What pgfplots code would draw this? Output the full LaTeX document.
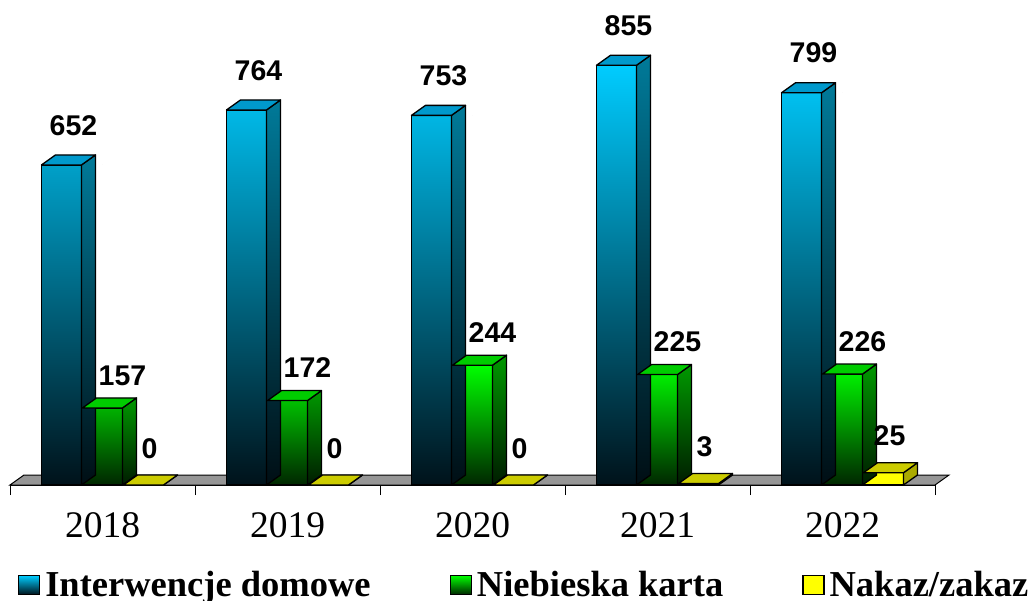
\documentclass[border=0pt]{standalone}
\usepackage{fontspec}
\setmainfont{Liberation Serif}
\newfontfamily\arial{Liberation Sans}
\usepackage{pgfplots}
\pgfplotsset{compat=1.18}
\definecolor{bTop}{RGB}{0,204,255}
\definecolor{bMid}{RGB}{0,112,142}
\definecolor{bBot}{RGB}{0,18,26}
\definecolor{bSideT}{RGB}{0,122,153}
\definecolor{bSideB}{RGB}{0,14,20}
\definecolor{bCap}{RGB}{0,153,204}
\definecolor{gTop}{RGB}{0,255,0}
\definecolor{gMid}{RGB}{0,150,0}
\definecolor{gBot}{RGB}{0,38,0}
\definecolor{gSideT}{RGB}{0,153,0}
\definecolor{gSideB}{RGB}{0,28,0}
\definecolor{gCap}{RGB}{0,204,0}
\definecolor{yFront}{RGB}{255,255,0}
\definecolor{ySide}{RGB}{170,170,0}
\definecolor{yCap}{RGB}{204,204,0}
\definecolor{floorgray}{RGB}{150,150,150}
\newcommand\boxfaces[4]{%
  \pgfmathsetmacro\hh{\rawy*0.490891}%
  \path[draw=black, line width=1.3bp, line join=round, top color=#2, bottom color=#3]
    (#1bp+20bp,0pt) -- ++(14bp,10bp) -- ++(0pt,-\hh bp) -- ++(-14bp,-10bp) -- cycle;
  \path[draw=black, line width=1.3bp, line join=round, fill=#4]
    (#1bp-20bp,0pt) -- ++(14bp,10bp) -- ++(40bp,0pt) -- ++(-14bp,-10bp) -- cycle;
}
\pgfplotstableread{
x v
0 652
1 764
2 753
3 855
4 799
}\blue
\pgfplotstableread{
x v
0 157
1 172
2 244
3 225
4 226
}\green
\pgfplotstableread{
x v
0 0
1 0
2 0
3 3
4 25
}\yellow
\begin{document}
\begin{tikzpicture}
\begin{axis}[
  scale only axis, width=925bp, height=485bp,
  xmin=-0.5, xmax=4.5, ymin=0, ymax=988,
  axis x line=bottom, axis y line=none,
  axis line style={-, black, line width=1bp},
  xtick={0,1,2,3,4}, xticklabels={2018,2019,2020,2021,2022},
  major tick length=0pt,
  minor xtick={-0.5,0.5,1.5,2.5,3.5,4.5}, minor tick length=10bp,
  tick align=outside, tick style={black, line width=1bp},
  xticklabel style={font=\fontsize{37.5bp}{40bp}\selectfont, inner sep=0pt, anchor=north, yshift=-27bp},
  clip=false,
  /pgf/number format/assume math mode=true,
  legend columns=3,
  legend style={draw=none, fill=none, inner sep=0pt, outer sep=0pt,
    at={(axis description cs:0.00865,-0.2063)}, anchor=west,
    font=\fontsize{36.5bp}{40bp}\selectfont\bfseries,
    nodes={inner sep=0pt},
    /tikz/every odd column/.append style={column sep=5bp},
    /tikz/every even column/.append style={column sep=79bp}},
  every node near coord/.append style={font=\arial\bfseries\fontsize{28.5bp}{30bp}\selectfont, anchor=south, inner sep=0pt, black},
]
\addplot[fill=floorgray, draw=black, line width=1bp, forget plot]
  coordinates {(-0.5,0) (4.5,0) (4.57568,20.37) (-0.42432,20.37)} -- cycle;
% blue
\addplot[ybar, bar width=40bp, bar shift=-41bp, draw=black, line width=1.3bp,
  top color=bTop, middle color=bMid, bottom color=bBot,
  nodes near coords, nodes near coords style={xshift=-29bp, yshift=29bp},
  legend image code/.code={\draw[black, line width=1.3bp, top color=bTop, middle color=bMid, bottom color=bBot] (0bp,-9.5bp) rectangle (21bp,9.5bp);}]
  table[x=x, y=v] {\blue};
\addlegendentry{Interwencje domowe}
\addplot[scatter, only marks, mark=*, mark size=0pt, forget plot,
  visualization depends on=rawy\as\rawy,
  scatter/@pre marker code/.code={\boxfaces{-41}{bSideT}{bSideB}{bCap}},
  scatter/@post marker code/.code={}]
  table[x=x, y=v] {\blue};
% green
\addplot[ybar, bar width=40bp, bar shift=0bp, draw=black, line width=1.3bp,
  top color=gTop, middle color=gMid, bottom color=gBot,
  nodes near coords, nodes near coords style={xshift=20bp, yshift=22bp},
  legend image code/.code={\draw[black, line width=1.3bp, top color=gTop, middle color=gMid, bottom color=gBot] (0bp,-9.5bp) rectangle (21bp,9.5bp);}]
  table[x=x, y=v] {\green};
\addlegendentry{Niebieska karta}
\addplot[scatter, only marks, mark=*, mark size=0pt, forget plot,
  visualization depends on=rawy\as\rawy,
  scatter/@pre marker code/.code={\boxfaces{0}{gSideT}{gSideB}{gCap}},
  scatter/@post marker code/.code={}]
  table[x=x, y=v] {\green};
% yellow
\addplot[ybar, bar width=40bp, bar shift=41bp, draw=black, line width=1.3bp,
  fill=yFront,
  nodes near coords, nodes near coords style={xshift=47bp, yshift=26bp},
  legend image code/.code={\draw[black, line width=1.3bp, fill=yFront] (0bp,-9.5bp) rectangle (21bp,9.5bp);}]
  table[x=x, y=v] {\yellow};
\addlegendentry{Nakaz/zakaz}
\addplot[scatter, only marks, mark=*, mark size=0pt, forget plot,
  visualization depends on=rawy\as\rawy,
  scatter/@pre marker code/.code={\boxfaces{41}{ySide}{ySide}{yCap}},
  scatter/@post marker code/.code={}]
  table[x=x, y=v] {\yellow};
\coordinate (O) at (rel axis cs:0,0);
\end{axis}
\pgfresetboundingbox
\path[use as bounding box] ([shift={(-10bp,-116bp)}]O) rectangle ([shift={(1020bp,485bp)}]O);
\end{tikzpicture}
\end{document}
